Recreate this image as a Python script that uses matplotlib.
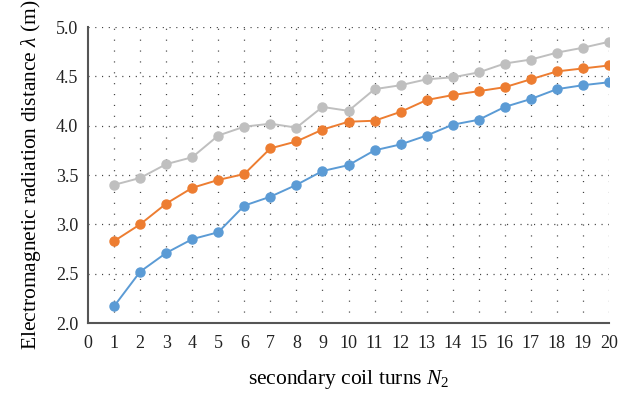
import matplotlib.pyplot as plt

plt.rcParams['font.family'] = ['Liberation Serif', 'DejaVu Serif']
plt.rcParams['mathtext.fontset'] = 'custom'
plt.rcParams['mathtext.rm'] = 'Liberation Serif'
plt.rcParams['mathtext.it'] = 'Liberation Serif:italic'

turns = list(range(1, 21))
series_blue = [2.17, 2.52, 2.71, 2.85, 2.92, 3.19, 3.28, 3.40, 3.54, 3.60,
               3.75, 3.81, 3.90, 4.01, 4.06, 4.19, 4.27, 4.37, 4.41, 4.44]
series_orange = [2.83, 3.00, 3.21, 3.37, 3.45, 3.51, 3.77, 3.84, 3.96, 4.04,
                 4.05, 4.14, 4.26, 4.31, 4.35, 4.39, 4.47, 4.55, 4.58, 4.61]
series_gray = [3.40, 3.47, 3.61, 3.68, 3.90, 3.99, 4.02, 3.98, 4.19, 4.15,
               4.37, 4.41, 4.47, 4.49, 4.54, 4.63, 4.67, 4.74, 4.79, 4.85]
y_ticks = [2.0, 2.5, 3.0, 3.5, 4.0, 4.5, 5.0]

fig = plt.figure(figsize=(6.38, 4.0), dpi=100)
ax = fig.add_axes([0.138, 0.1925, 0.8165, 0.74])

# dotted grid
for x in turns:
    ax.axvline(x, color='#404040', lw=0.9, ls=(0, (0.9, 7.8)), zorder=0)
for y in y_ticks[1:]:
    ax.axhline(y, color='#404040', lw=0.9, ls=(0, (0.9, 4.5)), zorder=0)

for vals, col in [(series_blue, '#5B9BD5'), (series_orange, '#ED7D31'), (series_gray, '#BFBFBF')]:
    ax.plot(turns, vals, color=col, lw=1.4, marker='o', markersize=6.5, zorder=3)

ax.set_xlim(0, 20)
ax.set_ylim(2.0, 5.0)
ax.set_xticks(range(0, 21))
ax.set_yticks(y_ticks)
ax.set_yticklabels(['{:.1f}'.format(v) for v in y_ticks])
ax.tick_params(length=0, labelsize=13, colors='#222222')
ax.tick_params(axis='x', pad=9)
ax.tick_params(axis='y', pad=7)

for s in ['top', 'right']:
    ax.spines[s].set_visible(False)
for s in ['left', 'bottom']:
    ax.spines[s].set_color('#555555')
    ax.spines[s].set_linewidth(1.5)

ax.set_xlabel('secondary coil turns $N_2$', fontsize=15.5, labelpad=11)
ax.set_ylabel('Electromagnetic radiation distance $\\lambda$ (m)', fontsize=15.5, labelpad=9)

fig.savefig('out.png', dpi=100)
